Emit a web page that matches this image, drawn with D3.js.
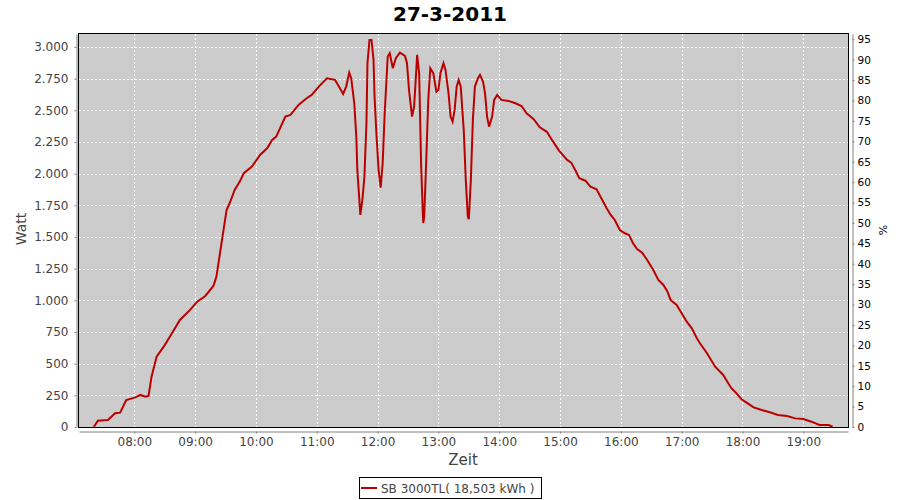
<!DOCTYPE html>
<html>
<head>
<meta charset="utf-8">
<script src="https://cdn.jsdelivr.net/npm/d3@7"></script>
<style>
  body { margin: 0; background: #fff; }
  svg { font-family: "DejaVu Sans", sans-serif; }
</style>
</head>
<body>
<script>
var chartTitle = "27-3-2011";
var legendLabel = "SB 3000TL( 18,503 kWh )";

// time of reading (HH:MM) and power in watt
var times = ["07:20","07:24","07:34","07:41","07:46","07:52","08:01","08:06","08:11","08:14",
  "08:17","08:22","08:29","08:35","08:45","08:55","09:02","09:10","09:18","09:21",
  "09:24","09:27","09:31","09:34","09:39","09:44","09:48","09:56","10:04","10:11",
  "10:16","10:20","10:29","10:34","10:42","10:50","10:55","11:02","11:10","11:18",
  "11:21","11:26","11:29","11:32","11:34","11:37","11:39","11:40","11:43","11:45",
  "11:47","11:49","11:50","11:52","11:54","11:56","11:57","11:59","12:01","12:03",
  "12:05","12:07","12:10","12:12","12:15","12:18","12:22","12:27","12:29","12:31",
  "12:34","12:36","12:38","12:39","12:41","12:43","12:45","12:46","12:48","12:50",
  "12:52","12:55","12:58","13:00","13:02","13:05","13:07","13:10","13:12","13:14",
  "13:16","13:18","13:20","13:22","13:25","13:27","13:29","13:30","13:32","13:34",
  "13:36","13:39","13:41","13:44","13:46","13:48","13:50","13:53","13:55","13:58",
  "14:02","14:09","14:16","14:22","14:27","14:34","14:40","14:47","14:52","14:59",
  "15:07","15:11","15:15","15:19","15:25","15:30","15:36","15:39","15:46","15:50",
  "15:54","15:59","16:04","16:08","16:12","16:16","16:21","16:26","16:32","16:37",
  "16:42","16:46","16:49","16:55","17:00","17:05","17:10","17:15","17:18","17:25",
  "17:33","17:41","17:44","17:49","17:54","17:59","18:04","18:11","18:19","18:27",
  "18:35","18:44","18:52","19:00","19:08","19:16","19:25","19:29"];
var watts = [0,50,55,108,113,213,234,253,239,245,
  397,555,634,713,845,924,989,1034,1113,1187,
  1345,1502,1713,1766,1871,1937,2003,2055,2147,2200,
  2266,2292,2450,2463,2542,2595,2621,2687,2753,2740,
  2700,2629,2687,2797,2753,2555,2292,2029,1674,1792,
  1976,2398,2871,3055,3055,2897,2608,2292,2029,1890,
  2082,2476,2924,2950,2832,2911,2955,2929,2871,2660,
  2450,2529,2792,2937,2792,2055,1610,1660,2108,2582,
  2832,2792,2647,2660,2792,2871,2818,2634,2450,2410,
  2503,2687,2740,2687,2345,1950,1660,1640,1950,2424,
  2687,2753,2779,2726,2634,2450,2371,2450,2582,2621,
  2582,2574,2555,2534,2476,2430,2365,2330,2266,2182,
  2108,2087,2029,1963,1944,1897,1876,1832,1727,1674,
  1634,1555,1529,1516,1450,1405,1376,1318,1239,1161,
  1121,1068,1003,963,898,831,779,700,661,582,
  476,411,371,306,266,219,192,155,134,116,
  95,87,68,63,42,16,16,2];

var wattTicks = [0,250,500,750,1000,1250,1500,1750,2000,2250,2500,2750,3000];
var percentTicks = [0,5,10,15,20,25,30,35,40,45,50,55,60,65,70,75,80,85,90,95];
var hourTicks = ["08:00","09:00","10:00","11:00","12:00","13:00","14:00","15:00","16:00","17:00","18:00","19:00"];

var parseTime = d3.timeParse("%H:%M:%S");
var parseHM = d3.timeParse("%H:%M");
var de = d3.formatLocale({decimal: ",", thousands: ".", grouping: [3], currency: ["", ""]});

var plotLeft = 79, plotRight = 848, plotTop = 34, plotBottom = 427;

var x = d3.scaleTime()
  .domain([parseTime("07:05:25"), parseTime("19:44:05")])
  .range([plotLeft, plotRight]);
var y = d3.scaleLinear().domain([0, 3102]).range([plotBottom, plotTop]);
var yPct = d3.scaleLinear().domain([0, 96.3]).range([plotBottom, plotTop]);

var svg = d3.select("body").append("svg")
  .attr("width", 900)
  .attr("height", 500);

svg.append("text")
  .attr("x", 450).attr("y", 21)
  .attr("text-anchor", "middle")
  .attr("font-size", 20).attr("font-weight", "bold")
  .text(chartTitle);

// plot background
svg.append("rect")
  .attr("x", plotLeft).attr("y", plotTop)
  .attr("width", plotRight - plotLeft).attr("height", plotBottom - plotTop)
  .attr("fill", "#cccccc");

// grid
var grid = svg.append("g")
  .attr("stroke", "#fff")
  .attr("stroke-dasharray", "2,2");
grid.selectAll(".gx").data(hourTicks).enter().append("line")
  .attr("x1", d => Math.round(x(parseHM(d))) + 0.5)
  .attr("x2", d => Math.round(x(parseHM(d))) + 0.5)
  .attr("y1", plotTop).attr("y2", plotBottom);
grid.selectAll(".gy").data(wattTicks.slice(1)).enter().append("line")
  .attr("x1", plotLeft).attr("x2", plotRight)
  .attr("y1", d => Math.round(y(d)) + 0.5)
  .attr("y2", d => Math.round(y(d)) + 0.5);

// power line
var line = d3.line()
  .x((d, i) => x(parseHM(times[i])))
  .y(d => y(d));
svg.append("path")
  .datum(watts)
  .attr("fill", "none")
  .attr("stroke", "#bb0000")
  .attr("stroke-width", 2)
  .attr("d", line);

svg.append("rect")
  .attr("x", plotLeft - 0.5).attr("y", plotTop - 0.5)
  .attr("width", plotRight - plotLeft + 1).attr("height", plotBottom - plotTop + 1)
  .attr("fill", "none")
  .attr("stroke", "#000");

// axes
var yAxis = svg.append("g")
  .attr("transform", "translate(76.5,0)")
  .call(d3.axisLeft(y).tickValues(wattTicks).tickFormat(de.format(",.0f"))
    .tickSize(2).tickSizeOuter(0).tickPadding(6));

var xAxis = svg.append("g")
  .attr("transform", "translate(0,431.5)")
  .call(d3.axisBottom(x).tickValues(hourTicks.map(parseHM)).tickFormat(d3.timeFormat("%H:%M"))
    .tickSize(2).tickSizeOuter(0).tickPadding(4));

var pAxis = svg.append("g")
  .attr("transform", "translate(852.5,0)")
  .call(d3.axisRight(yPct).tickValues(percentTicks)
    .tickSize(2).tickSizeOuter(0).tickPadding(3));

[yAxis, xAxis, pAxis].forEach(g => {
  g.select(".domain").attr("stroke", "#808080");
  g.selectAll(".tick line").attr("stroke", "#808080");
  g.selectAll("text").attr("font-family", "DejaVu Sans, sans-serif");
});
yAxis.selectAll("text").attr("font-size", 12).attr("fill", "#444");
xAxis.selectAll("text").attr("font-size", 12).attr("fill", "#444");
pAxis.selectAll("text").attr("font-size", 10.5).attr("fill", "#000");

// axis labels
svg.append("text")
  .attr("transform", "translate(26,229) rotate(-90)")
  .attr("text-anchor", "middle")
  .attr("font-size", 14).attr("fill", "#444")
  .text("Watt");
svg.append("text")
  .attr("x", 463).attr("y", 465)
  .attr("text-anchor", "middle")
  .attr("font-size", 15).attr("fill", "#444")
  .text("Zeit");
svg.append("text")
  .attr("transform", "translate(887,230) rotate(-90)")
  .attr("text-anchor", "middle")
  .attr("font-size", 11).attr("fill", "#000")
  .text("%");

// legend
var legend = svg.append("g");
legend.append("rect")
  .attr("x", 359.5).attr("y", 477.5)
  .attr("width", 182).attr("height", 21)
  .attr("fill", "#fff").attr("stroke", "#000");
legend.append("line")
  .attr("x1", 361).attr("x2", 377)
  .attr("y1", 488).attr("y2", 488)
  .attr("stroke", "#bb0000").attr("stroke-width", 2);
legend.append("text")
  .attr("x", 381).attr("y", 492.5)
  .attr("font-size", 12).attr("fill", "#444")
  .text(legendLabel);
</script>
</body>
</html>
